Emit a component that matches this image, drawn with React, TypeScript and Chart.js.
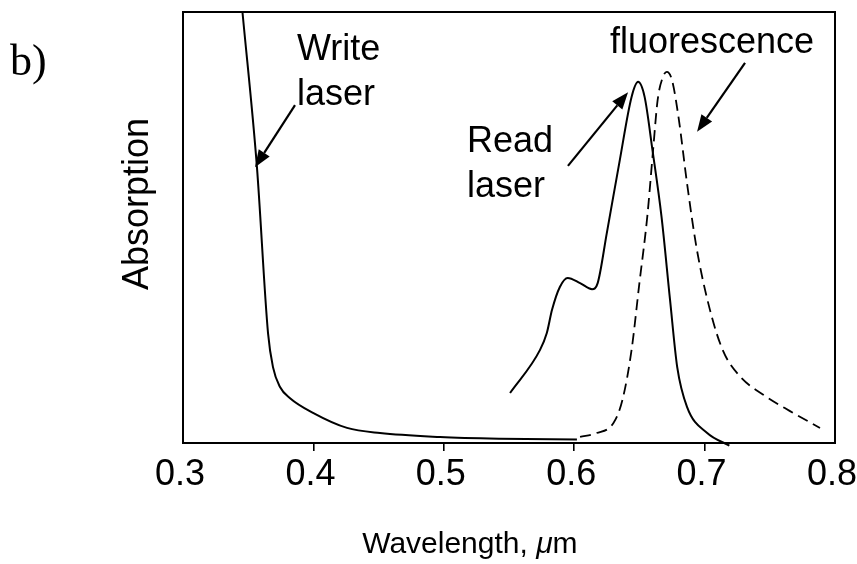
import React, { useEffect, useRef } from "react";
import { Chart, registerables } from "chart.js";

Chart.register(...registerables);

// ---- data (wavelength in µm, arbitrary absorption / intensity units 0..100) ----
const writeWavelength = [0.3456, 0.3567, 0.3652, 0.369, 0.3744, 0.3821, 0.3997, 0.4258, 0.4511, 0.4971, 0.5431, 0.6021];
const writeAbsorption = [100, 64.0, 25.5, 17.6, 13.0, 10.4, 7.0, 3.5, 2.3, 1.4, 1.0, 0.8];

const readWavelength = [0.5508, 0.5738, 0.579, 0.583, 0.589, 0.595, 0.6045, 0.6137, 0.618, 0.625, 0.635, 0.644, 0.649, 0.654, 0.66, 0.667, 0.6735, 0.679, 0.6865, 0.702, 0.719];
const readAbsorption = [11.6, 21.6, 25.5, 30.9, 36.2, 38.3, 37.1, 35.7, 37.1, 48.7, 65.7, 80.3, 83.8, 80.3, 68.0, 52.4, 33.2, 17.6, 8.4, 2.3, -0.6];

const fluorWavelength = [0.6045, 0.617, 0.63, 0.637, 0.644, 0.65, 0.656, 0.6605, 0.664, 0.668, 0.671, 0.675, 0.68, 0.6865, 0.694, 0.704, 0.714, 0.727, 0.745, 0.7655, 0.7885];
const fluorIntensity = [1.4, 2.3, 4.6, 10.0, 21.6, 37.1, 52.4, 68.0, 79.6, 84.9, 86.1, 84.2, 75.6, 60.3, 45.0, 31.0, 21.5, 15.5, 11.2, 7.4, 3.5];

const xTicks = [0.3, 0.4, 0.5, 0.6, 0.7, 0.8];

// ---- annotations (positions in data units) ----
const noteTexts = ["Write", "laser", "Read", "laser", "fluorescence"];
const noteX = [0.3874, 0.3874, 0.5178, 0.5178, 0.6274];
const noteY = [88.9, 78.4, 67.5, 57.1, 90.5];

const arrowFromX = [0.3859, 0.5952, 0.731];
const arrowFromY = [78.4, 64.3, 88.2];
const arrowToX = [0.3552, 0.6413, 0.6942];
const arrowToY = [64.0, 81.4, 72.2];

const SANS = "'Liberation Sans', Arial, Helvetica, sans-serif";
const SERIF = "'Liberation Serif', 'Times New Roman', serif";

function pts(xs: number[], ys: number[]) {
  return xs.map((x, i) => ({ x, y: ys[i] }));
}

function drawArrow(ctx: CanvasRenderingContext2D, x0: number, y0: number, x1: number, y1: number) {
  const ang = Math.atan2(y1 - y0, x1 - x0);
  const headLen = 17;
  const headHalf = 6.5;
  const bx = x1 - headLen * Math.cos(ang);
  const by = y1 - headLen * Math.sin(ang);
  ctx.beginPath();
  ctx.moveTo(x0, y0);
  ctx.lineTo(bx, by);
  ctx.lineWidth = 2.2;
  ctx.strokeStyle = "#000";
  ctx.stroke();
  ctx.beginPath();
  ctx.moveTo(x1, y1);
  ctx.lineTo(bx + headHalf * Math.sin(ang), by - headHalf * Math.cos(ang));
  ctx.lineTo(bx - headHalf * Math.sin(ang), by + headHalf * Math.cos(ang));
  ctx.closePath();
  ctx.fillStyle = "#000";
  ctx.fill();
}

const annotationPlugin = {
  id: "figAnnotations",
  afterDraw(chart: any) {
    const { ctx, chartArea, scales } = chart;
    const xs = scales.x;
    const ys = scales.y;
    ctx.save();
    // frame
    ctx.strokeStyle = "#000";
    ctx.lineWidth = 2;
    ctx.strokeRect(chartArea.left, chartArea.top, chartArea.right - chartArea.left, chartArea.bottom - chartArea.top);

    // labels
    ctx.fillStyle = "#000";
    ctx.font = `36px ${SANS}`;
    ctx.textAlign = "left";
    ctx.textBaseline = "alphabetic";
    noteTexts.forEach((t, i) => {
      ctx.fillText(t, xs.getPixelForValue(noteX[i]), ys.getPixelForValue(noteY[i]));
    });

    // arrows
    arrowFromX.forEach((_, i) => {
      drawArrow(
        ctx,
        xs.getPixelForValue(arrowFromX[i]),
        ys.getPixelForValue(arrowFromY[i]),
        xs.getPixelForValue(arrowToX[i]),
        ys.getPixelForValue(arrowToY[i])
      );
    });

    // y-axis title
    ctx.save();
    ctx.translate(chartArea.left - 35, chartArea.top + 192);
    ctx.rotate(-Math.PI / 2);
    ctx.textAlign = "center";
    ctx.font = `36px ${SANS}`;
    ctx.fillText("Absorption", 0, 0);
    ctx.restore();

    // x-axis title with italic mu
    const partA = "Wavelength, ";
    const partB = "\u03bc";
    const partC = "m";
    ctx.font = `30px ${SANS}`;
    const wA = ctx.measureText(partA).width;
    const wC = ctx.measureText(partC).width;
    ctx.font = `italic 30px ${SANS}`;
    const wB = ctx.measureText(partB).width;
    const total = wA + wB + wC;
    const cx = xs.getPixelForValue(0.52);
    const by = chartArea.bottom + 110;
    let x = cx - total / 2;
    ctx.textAlign = "left";
    ctx.font = `30px ${SANS}`;
    ctx.fillText(partA, x, by);
    x += wA;
    ctx.font = `italic 30px ${SANS}`;
    ctx.fillText(partB, x, by);
    x += wB;
    ctx.font = `30px ${SANS}`;
    ctx.fillText(partC, x, by);

    // panel letter
    ctx.font = `44px ${SERIF}`;
    ctx.fillText("b)", 10, 75);
    ctx.restore();
  },
};

export default function App() {
  const ref = useRef<HTMLCanvasElement | null>(null);

  useEffect(() => {
    if (!ref.current) return;
    const chart = new Chart(ref.current, {
      type: "line",
      data: {
        datasets: [
          {
            label: "Write laser absorption",
            data: pts(writeWavelength, writeAbsorption),
            borderColor: "#000",
            borderWidth: 2,
            pointRadius: 0,
            cubicInterpolationMode: "monotone",
            fill: false,
          },
          {
            label: "Read absorption",
            data: pts(readWavelength, readAbsorption),
            borderColor: "#000",
            borderWidth: 2,
            pointRadius: 0,
            cubicInterpolationMode: "monotone",
            fill: false,
            clip: false,
          },
          {
            label: "Fluorescence",
            data: pts(fluorWavelength, fluorIntensity),
            borderColor: "#000",
            borderWidth: 1.8,
            borderDash: [11, 6],
            pointRadius: 0,
            cubicInterpolationMode: "monotone",
            fill: false,
          },
        ] as any,
      },
      options: {
        animation: false,
        responsive: false,
        devicePixelRatio: 1,
        layout: { padding: { left: 183, top: 12, right: 22, bottom: 0 } },
        plugins: {
          legend: { display: false },
          tooltip: { enabled: false },
        },
        scales: {
          x: {
            type: "linear",
            min: 0.3,
            max: 0.8,
            afterBuildTicks: (s: any) => {
              s.ticks = xTicks.map((v) => ({ value: v }));
            },
            afterFit: (s: any) => {
              s.height = 121;
              s.paddingLeft = 0;
              s.paddingRight = 0;
            },
            border: { display: false },
            grid: {
              display: true,
              drawOnChartArea: false,
              drawTicks: true,
              tickLength: 8,
              lineWidth: 1.6,
              color: (c: any) =>
                c.index === 0 || c.index === xTicks.length - 1 ? "rgba(0,0,0,0)" : "#000",
            },
            ticks: {
              color: "#000",
              padding: 2,
              labelOffset: -3,
              maxRotation: 0,
              autoSkip: false,
              font: { family: SANS, size: 36 },
              callback: (v: any) => Number(v).toFixed(1),
            },
          },
          y: {
            type: "linear",
            min: 0,
            max: 100,
            display: false,
          },
        },
      } as any,
      plugins: [annotationPlugin],
    });
    return () => chart.destroy();
  }, []);

  return (
    <div style={{ position: "absolute", left: 0, top: 0, width: 857, height: 564, background: "#fff" }}>
      <canvas ref={ref} width={857} height={564} style={{ display: "block" }} />
    </div>
  );
}
